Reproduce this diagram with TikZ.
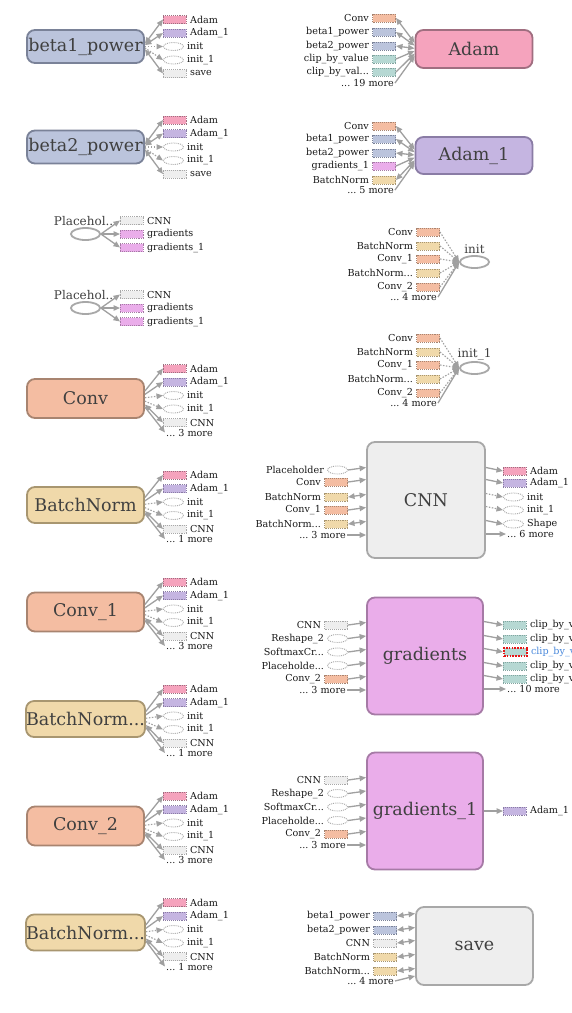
\documentclass[tikz,border=0pt]{standalone}
\usepackage{fontspec}
\setmainfont{DejaVu Serif}
\usetikzlibrary{arrows.meta, positioning, calc, shapes.geometric}
\definecolor{edgec}{RGB}{160,160,160}
\definecolor{txtc}{RGB}{64,64,64}
\definecolor{lblc}{RGB}{25,25,25}
\definecolor{betaf}{RGB}{187,196,220}
\definecolor{betad}{RGB}{122,130,152}
\definecolor{adamf}{RGB}{245,163,189}
\definecolor{adamd}{RGB}{160,110,128}
\definecolor{adamif}{RGB}{197,181,225}
\definecolor{adamid}{RGB}{138,124,165}
\definecolor{convf}{RGB}{244,189,162}
\definecolor{convd}{RGB}{168,132,112}
\definecolor{bnf}{RGB}{240,217,170}
\definecolor{bnd}{RGB}{168,150,112}
\definecolor{grayf}{RGB}{238,238,238}
\definecolor{grayd}{RGB}{168,168,168}
\definecolor{gradf}{RGB}{234,173,234}
\definecolor{gradd}{RGB}{166,122,166}
\definecolor{clipf}{RGB}{182,216,211}
\definecolor{clipd}{RGB}{130,165,160}
\definecolor{hilite}{RGB}{230,20,20}
\definecolor{selc}{RGB}{74,137,220}
\newcommand{\tdots}{...}

\begin{document}
\begin{tikzpicture}[x=1pt, y=-1pt,
    op/.style={draw, line width=1.8pt, rounded corners=8pt, inner sep=0pt,
      minimum width=117pt, font=\fontsize{17.5}{20}\selectfont, text=txtc},
    betabox/.style={op, fill=betaf, draw=betad, minimum height=33pt},
    adambox/.style={op, fill=adamf, draw=adamd, minimum height=38pt},
    adamibox/.style={op, fill=adamif, draw=adamid, minimum height=37pt},
    convbox/.style={op, fill=convf, draw=convd, minimum height=39pt},
    bnbox/.style={op, fill=bnf, draw=bnd, minimum height=36pt},
    graybox/.style={op, fill=grayf, draw=grayd},
    gradbox/.style={op, fill=gradf, draw=gradd, minimum width=116pt},
    leaf/.style={ellipse, draw=grayd, line width=1.8pt, fill=white, inner sep=0pt,
      minimum width=29pt, minimum height=12pt},
    leaflbl/.style={font=\fontsize{12}{14}\selectfont, text=txtc, inner sep=1pt},
    ann/.style={draw, densely dotted, line width=.9pt, inner sep=0pt,
      minimum width=23pt, minimum height=8pt},
    annop/.style={ann, ellipse, draw=grayd, fill=white, minimum width=20pt},
    adamann/.style={ann, fill=adamf, draw=adamd},
    adamiann/.style={ann, fill=adamif, draw=adamid},
    betaann/.style={ann, fill=betaf, draw=betad},
    convann/.style={ann, fill=convf, draw=convd},
    bnann/.style={ann, fill=bnf, draw=bnd},
    grayann/.style={ann, fill=grayf, draw=grayd},
    gradann/.style={ann, fill=gradf, draw=gradd},
    clipann/.style={ann, fill=clipf, draw=clipd},
    hiann/.style={clipann, draw=hilite, dash pattern=on 1.6pt off 1.2pt, line width=1.8pt},
    lbl/.style={font=\fontsize{9.6}{11}\selectfont, text=lblc, inner sep=1pt},
    data/.style={-{Triangle[length=6.5pt, width=5.5pt]}, line width=1.3pt, color=edgec},
    refe/.style={{Triangle[length=6.5pt, width=5.5pt]}-{Triangle[length=6.5pt, width=5.5pt]},
      line width=1.3pt, color=edgec},
    ctrl/.style={data, line width=1.1pt, dash pattern=on 1.5pt off 1.5pt}]
  \path[use as bounding box, fill=white] (0,0) rectangle (572,1013);

  % left column: variables and their outputs
  \foreach \n/\tx/\yc in {b1/beta1\_power/46.5, b2/beta2\_power/147}{
    \node[betabox] (\n) at (85.5,\yc) {\tx};
    \foreach \dy/\lab/\kind/\ed [count=\k] in {-27/Adam/adamann/refe,
        -13.5/Adam\_1/adamiann/refe, 0/init/annop/ctrl, 13.5/init\_1/annop/ctrl,
        27/save/grayann/refe}{
      \node[\kind, anchor=west] (\n-o\k) at (163,{\yc+(\dy)}) {};
      \node[lbl, anchor=west] (\n-l\k) at ([xshift=2pt]\n-o\k.east) {\lab};
      \draw[\ed] ($(\n.east)!.1!(\n.east |- \n-o\k.west)$) -- (\n-o\k.west);
    }
  }

  \foreach \n/\yc in {ph1/234, ph2/308}{
    \node[leaf] (\n) at (85.5,\yc) {};
    \node[leaflbl, above=0pt of \n] (\n-t) {Placehol\tdots};
    \foreach \dy/\lab/\kind [count=\k] in {-13.5/CNN/grayann, 0/gradients/gradann,
        13.5/gradients\_1/gradann}{
      \node[\kind, anchor=west] (\n-o\k) at (120,{\yc+(\dy)}) {};
      \node[lbl, anchor=west] (\n-l\k) at ([xshift=2pt]\n-o\k.east) {\lab};
      \draw[data] (\n.east) -- (\n-o\k.west);
    }
  }

  \foreach \n/\tx/\st/\yc/\m in {conv/Conv/convbox/398.5/3, bn/BatchNorm/bnbox/505/1,
      conv1/Conv\_1/convbox/612/3, bnb/BatchNorm\tdots/bnbox/719/1,
      conv2/Conv\_2/convbox/826/3, bnc/BatchNorm\tdots/bnbox/932.5/1}{
    \node[\st] (\n) at (85.5,\yc) {\tx};
    \foreach \dy/\lab/\kind/\ed [count=\k] in {-30/Adam/adamann/data,
        -16.5/Adam\_1/adamiann/data, -3/init/annop/ctrl, 10.5/init\_1/annop/ctrl,
        24/CNN/grayann/refe}{
      \node[\kind, anchor=west] (\n-o\k) at (163,{\yc+(\dy)}) {};
      \node[lbl, anchor=west] (\n-l\k) at ([xshift=2pt]\n-o\k.east) {\lab};
      \draw[\ed] ($(\n.east)!.25!(\n.east |- \n-o\k.west)$) -- (\n-o\k.west);
    }
    \node[lbl, anchor=west] (\n-m) at (165,{\yc+34}) {\tdots\ \m\ more};
    \draw[data] ($(\n.east)!.25!(\n.east |- \n-m.west)$) -- (\n-m.west);
  }

  % right column: Adam, Adam_1
  \node[adambox] (adam) at (474,49) {Adam};
  \foreach \yy/\lab/\kind/\ed [count=\k] in {18/Conv/convann/refe,
      32/beta1\_power/betaann/refe, 46/beta2\_power/betaann/refe,
      59/clip\_by\_value/clipann/data, 72/clip\_by\_val\tdots/clipann/data}{
    \node[\kind, anchor=east] (adam-i\k) at (396,\yy) {};
    \node[lbl, anchor=east] (adam-l\k) at ([xshift=-2pt]adam-i\k.west) {\lab};
    \draw[\ed] (adam-i\k.east) -- ($(adam.west)!.2!(adam.west |- adam-i\k.east)$);
  }
  \node[lbl, anchor=east] (adam-m) at (395,83) {\tdots\ 19 more};
  \draw[data] (adam-m.east) -- ($(adam.west)!.2!(adam.west |- adam-m.east)$);

  \node[adamibox] (adami) at (474,155.5) {Adam\_1};
  \foreach \yy/\lab/\kind/\ed [count=\k] in {126/Conv/convann/refe,
      139/beta1\_power/betaann/refe, 153/beta2\_power/betaann/refe,
      166/gradients\_1/gradann/data, 180/BatchNorm/bnann/refe}{
    \node[\kind, anchor=east] (adami-i\k) at (396,\yy) {};
    \node[lbl, anchor=east] (adami-l\k) at ([xshift=-2pt]adami-i\k.west) {\lab};
    \draw[\ed] (adami-i\k.east) -- ($(adami.west)!.2!(adami.west |- adami-i\k.east)$);
  }
  \node[lbl, anchor=east] (adami-m) at (395,190) {\tdots\ 5 more};
  \draw[data] (adami-m.east) -- ($(adami.west)!.2!(adami.west |- adami-m.east)$);

  % init, init_1
  \foreach \n/\tx/\yc in {init/init/262, initi/init\_1/368}{
    \node[leaf] (\n) at (474.5,\yc) {};
    \node[leaflbl, above=0pt of \n] (\n-t) {\tx};
    \foreach \dy/\lab/\kind [count=\k] in {-30/Conv/convann, -16/BatchNorm/bnann,
        -3/Conv\_1/convann, 11/BatchNorm\tdots/bnann, 25/Conv\_2/convann}{
      \node[\kind, anchor=east] (\n-i\k) at (440,{\yc+(\dy)}) {};
      \node[lbl, anchor=east] (\n-l\k) at ([xshift=-2pt]\n-i\k.west) {\lab};
      \draw[ctrl] (\n-i\k.east) -- (\n.west);
    }
    \node[lbl, anchor=east] (\n-m) at (438,{\yc+35}) {\tdots\ 4 more};
    \draw[data] (\n-m.east) -- (\n.west);
  }

  % CNN
  \node[graybox, minimum width=118pt, minimum height=116pt] (cnn) at (426,500) {CNN};
  \foreach \yy/\lab/\kind/\ed [count=\k] in {470/Placeholder/annop/data,
      482/Conv/convann/data, 497/BatchNorm/bnann/refe, 510/Conv\_1/convann/data,
      524/BatchNorm\tdots/bnann/refe}{
    \node[\kind, anchor=east] (cnn-i\k) at (348,\yy) {};
    \node[lbl, anchor=east] (cnn-l\k) at ([xshift=-2pt]cnn-i\k.west) {\lab};
    \draw[\ed] (cnn-i\k.east) -- ($(cnn-i\k.east -| cnn.west)+(0,-2.5)$);
  }
  \node[lbl, anchor=east] (cnn-m) at (347,535) {\tdots\ 3 more};
  \draw[data] (cnn-m.east) -- (cnn-m.east -| cnn.west);
  \foreach \yy/\lab/\kind/\ed [count=\k] in {471/Adam/adamann/data,
      483/Adam\_1/adamiann/data, 497/init/annop/ctrl, 510/init\_1/annop/ctrl,
      524/Shape/annop/data}{
    \node[\kind, anchor=west] (cnn-o\k) at (503,\yy) {};
    \node[lbl, anchor=west] (cnn-r\k) at ([xshift=2pt]cnn-o\k.east) {\lab};
    \draw[\ed] ($(cnn-o\k.west -| cnn.east)+(0,-3.5)$) -- (cnn-o\k.west);
  }
  \node[lbl, anchor=west] (cnn-n) at (506,534) {\tdots\ 6 more};
  \draw[data] (cnn-n.west -| cnn.east) -- (cnn-n.west);

  % gradients, gradients_1
  \foreach \n/\tx/\yc in {grad/gradients/656, gradi/gradients\_1/811}{
    \node[gradbox, minimum height=117pt] (\n) at (425,\yc) {\tx};
    \foreach \dy/\lab/\kind [count=\k] in {-31/CNN/grayann, -17.5/Reshape\_2/annop,
        -4/SoftmaxCr\tdots/annop, 9.5/Placeholde\tdots/annop, 23/Conv\_2/convann}{
      \node[\kind, anchor=east] (\n-i\k) at (348,{\yc+(\dy)}) {};
      \node[lbl, anchor=east] (\n-l\k) at ([xshift=-2pt]\n-i\k.west) {\lab};
      \draw[data] (\n-i\k.east) -- ($(\n-i\k.east -| \n.west)+(0,-2.5)$);
    }
    \node[lbl, anchor=east] (\n-m) at (347,{\yc+34}) {\tdots\ 3 more};
    \draw[data] (\n-m.east) -- (\n-m.east -| \n.west);
  }
  \foreach \yy/\kind/\col [count=\k] in {625/clipann/lblc, 639/clipann/lblc,
      652/hiann/selc, 666/clipann/lblc, 679/clipann/lblc}{
    \node[\kind, anchor=west] (grad-o\k) at (503,\yy) {};
    \node[lbl, anchor=west, text=\col] (grad-r\k) at ([xshift=2pt]grad-o\k.east)
      {clip\_by\_value};
    \draw[data] ($(grad-o\k.west -| grad.east)+(0,-3.5)$) -- (grad-o\k.west);
  }
  \node[lbl, anchor=west] (grad-n) at (506,689) {\tdots\ 10 more};
  \draw[data] (grad-n.west -| grad.east) -- (grad-n.west);
  \node[adamiann, anchor=west] (gradi-o1) at (503,811) {};
  \node[lbl, anchor=west] (gradi-r1) at ([xshift=2pt]gradi-o1.east) {Adam\_1};
  \draw[data] (gradi.east |- gradi-o1.west) -- (gradi-o1.west);

  % save
  \node[graybox, minimum height=78pt] (save) at (474.5,946) {save};
  \foreach \yy/\lab/\kind [count=\k] in {916/beta1\_power/betaann,
      930/beta2\_power/betaann, 943/CNN/grayann, 957/BatchNorm/bnann,
      971/BatchNorm\tdots/bnann}{
    \node[\kind, anchor=east] (save-i\k) at (397,\yy) {};
    \node[lbl, anchor=east] (save-l\k) at ([xshift=-2pt]save-i\k.west) {\lab};
    \draw[refe] (save-i\k.east) -- ($(save-i\k.east -| save.west)+(0,-2.5)$);
  }
  \node[lbl, anchor=east] (save-m) at (395,981) {\tdots\ 4 more};
  \draw[data] (save-m.east) -- ($(save-m.east -| save.west)+(0,-5)$);
\end{tikzpicture}
\end{document}
